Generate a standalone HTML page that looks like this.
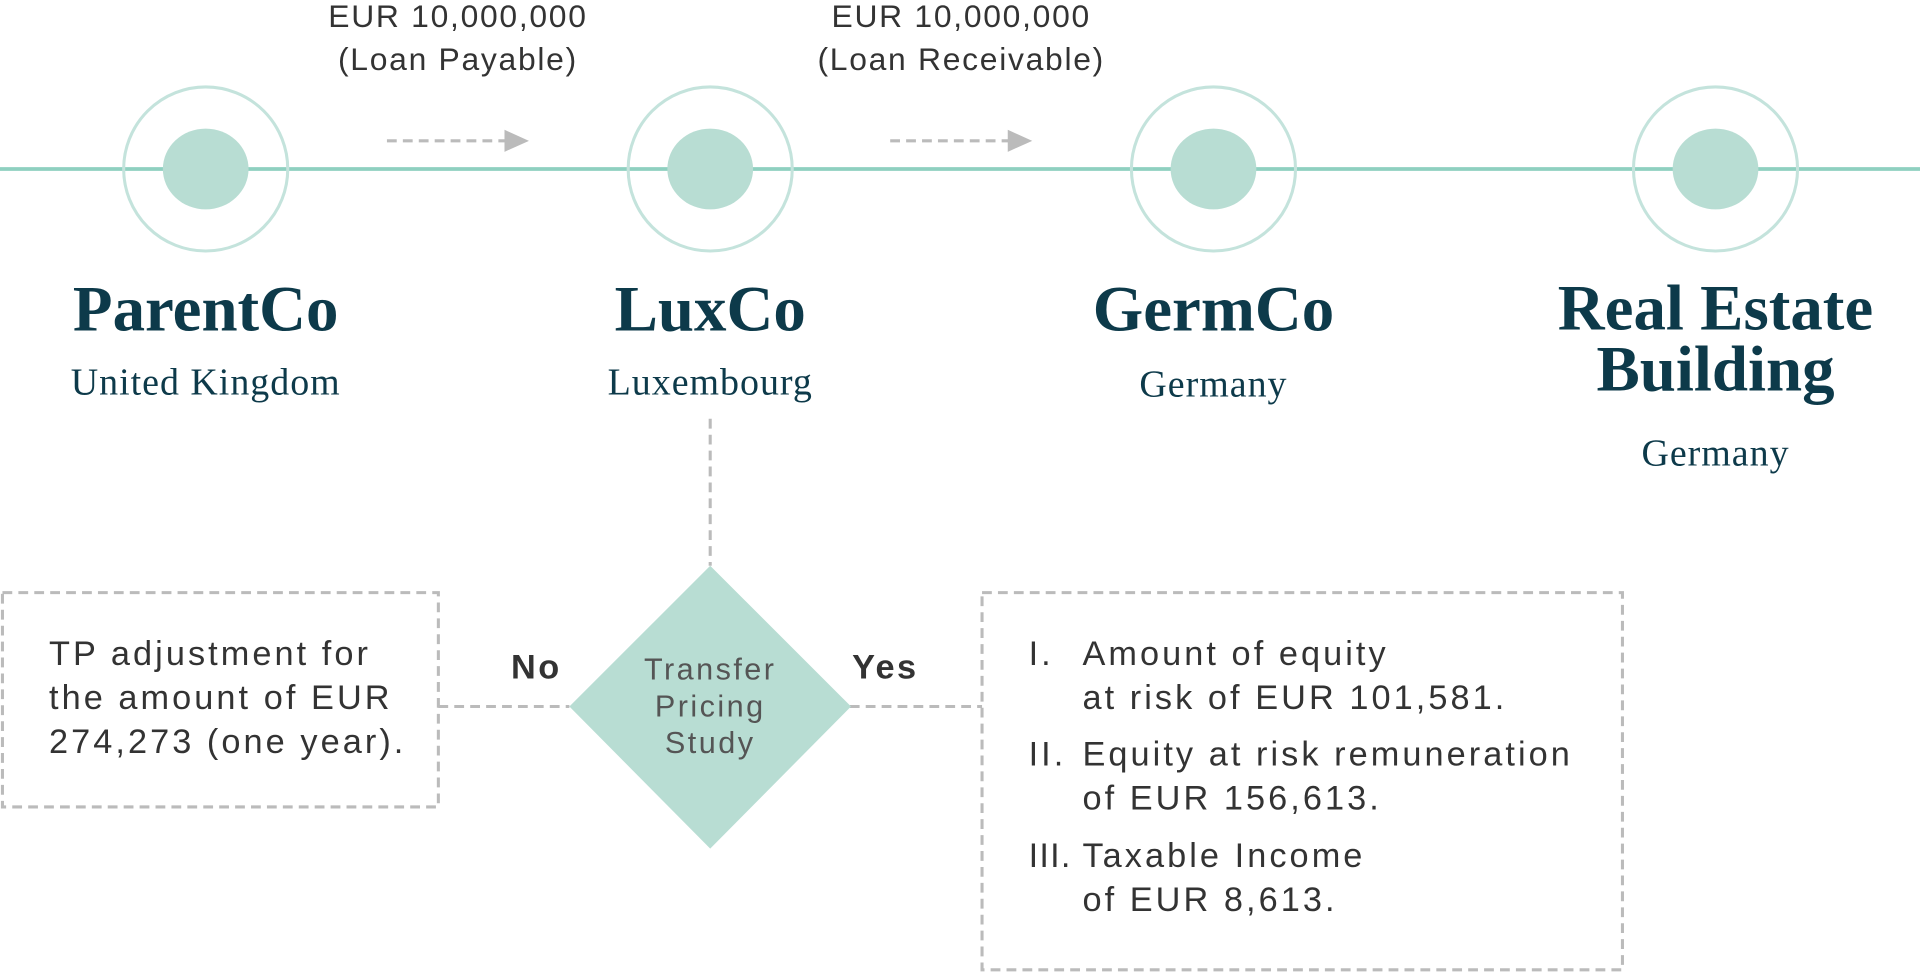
<!DOCTYPE html>
<html><head><meta charset="utf-8"><style>
html,body{margin:0;padding:0;background:#fff;width:1920px;height:976px;overflow:hidden}
#c{position:absolute;left:0;top:0;width:1568px;height:797px;transform:scale(1.22449);transform-origin:0 0}
.t{position:absolute;white-space:nowrap;font-family:"Liberation Sans",sans-serif;color:#333}
.c{transform:translateX(-50%);text-align:center}
.h{font-family:"Liberation Serif",serif;font-weight:bold;color:#0d3a4a;font-size:53px;line-height:50px}
.s{font-family:"Liberation Serif",serif;color:#0d3a4a;font-size:31px;letter-spacing:0.8px}
.b{font-size:28px;line-height:36px;letter-spacing:2.5px}
</style></head><body><div id="c">
<svg width="1568" height="797" style="position:absolute;left:0;top:0">
<line x1="0" y1="138" x2="1568" y2="138" stroke="#8fd0c0" stroke-width="3"/>
<g fill="none" stroke="#c4e3dc" stroke-width="2.5">
<circle cx="168" cy="138" r="67"/><circle cx="580" cy="138" r="67"/><circle cx="991" cy="138" r="67"/><circle cx="1401" cy="138" r="67"/></g>
<g fill="#b8ddd3"><ellipse cx="168" cy="138" rx="35" ry="33"/><ellipse cx="580" cy="138" rx="35" ry="33"/><ellipse cx="991" cy="138" rx="35" ry="33"/><ellipse cx="1401" cy="138" rx="35" ry="33"/></g>
<g stroke="#bbb" stroke-width="2.5" stroke-dasharray="8,5" fill="none">
<line x1="316" y1="115" x2="414" y2="115"/><line x1="727" y1="115" x2="825" y2="115"/>
<line x1="580" y1="342" x2="580" y2="462"/>
<line x1="358" y1="577" x2="465" y2="577"/><line x1="694" y1="577" x2="802" y2="577"/>
<rect x="2" y="484" width="356" height="175"/><rect x="802" y="484" width="523" height="308"/>
</g>
<polygon points="412,106 432,115 412,124" fill="#bbb"/><polygon points="823,106 843,115 823,124" fill="#bbb"/>
<polygon points="580,462 695,577 580,693 465,577" fill="#b8ddd3"/>
</svg>
<div class="t c" style="left:374px;top:-4px;font-size:26px;line-height:35px;letter-spacing:1.4px">EUR 10,000,000<br>(Loan Payable)</div>
<div class="t c" style="left:785px;top:-4px;font-size:26px;line-height:35px;letter-spacing:1.4px">EUR 10,000,000<br>(Loan Receivable)</div>
<div class="t c h" style="left:168px;top:228px">ParentCo</div>
<div class="t c s" style="left:168px;top:294px">United Kingdom</div>
<div class="t c h" style="left:580px;top:228px">LuxCo</div>
<div class="t c s" style="left:580px;top:294px">Luxembourg</div>
<div class="t c h" style="left:991px;top:228px">GermCo</div>
<div class="t c s" style="left:991px;top:296px">Germany</div>
<div class="t c h" style="left:1401px;top:227px">Real Estate<br>Building</div>
<div class="t c s" style="left:1401px;top:352px">Germany</div>
<div class="t c" style="left:580px;top:532px;font-size:25px;line-height:30px;color:#555;letter-spacing:2px">Transfer<br>Pricing<br>Study</div>
<div class="t c" style="left:438px;top:529px;font-size:28px;font-weight:bold;letter-spacing:2px">No</div>
<div class="t c" style="left:723px;top:529px;font-size:28px;font-weight:bold;letter-spacing:2px">Yes</div>
<div class="t b" style="left:40px;top:516px">TP adjustment for<br>the amount of EUR<br>274,273 (one year).</div>
<div class="t b" style="left:840px;top:516px">I.</div>
<div class="t b" style="left:884px;top:516px">Amount of equity<br>at risk of EUR 101,581.</div>
<div class="t b" style="left:840px;top:598px">II.</div>
<div class="t b" style="left:884px;top:598px">Equity at risk remuneration<br>of EUR 156,613.</div>
<div class="t b" style="left:840px;top:681px;letter-spacing:1px">III.</div>
<div class="t b" style="left:884px;top:681px">Taxable Income<br>of EUR 8,613.</div>
</div></body></html>
